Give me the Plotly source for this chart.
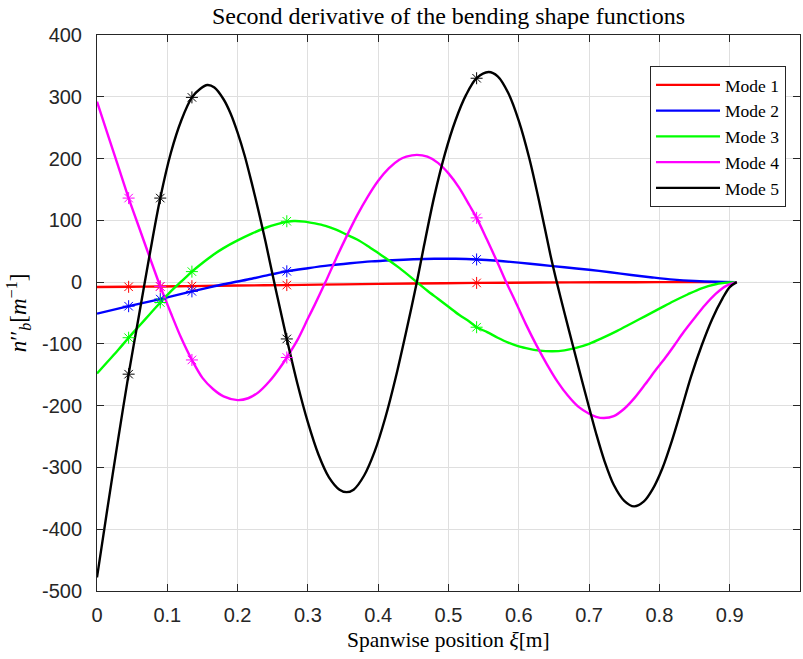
import plotly.graph_objects as go

# ---- data ----
x1 = [0, 0.045, 0.09, 0.135, 0.2, 0.27, 0.35, 0.45, 0.54, 0.63, 0.72, 0.8, 0.91]
y1 = [-8, -7.6, -7, -6.5, -5.6, -4.8, -3.6, -2.3, -1.3, -0.7, -0.3, -0.1, 0]

x2 = [0, 0.045, 0.09, 0.135, 0.16, 0.18, 0.2, 0.22, 0.24, 0.27, 0.30, 0.33, 0.36, 0.39,
      0.42, 0.45, 0.48, 0.51, 0.54, 0.57, 0.60, 0.63, 0.665, 0.70, 0.73, 0.76, 0.79,
      0.82, 0.85, 0.88, 0.91]
y2 = [-51, -39, -27.5, -15, -8.5, -3.5, 1, 5.5, 10.5, 17.5, 22.5, 27, 30.5, 33.5,
      35.5, 37, 37.8, 37.8, 36.7, 34.5, 31.5, 28, 24, 20, 16, 11.5, 7.5,
      4, 1.8, 0.5, 0]

x3 = [0, 0.015, 0.03, 0.045, 0.06, 0.075, 0.09, 0.105, 0.12, 0.135, 0.15, 0.165, 0.18,
      0.2, 0.22, 0.24, 0.255, 0.27, 0.28, 0.295, 0.31, 0.325, 0.34, 0.355, 0.37, 0.385,
      0.40, 0.415, 0.43, 0.455, 0.47, 0.485, 0.50, 0.515, 0.53, 0.54, 0.555, 0.57, 0.585,
      0.60, 0.615, 0.63, 0.648, 0.665, 0.68, 0.70, 0.72, 0.74, 0.76, 0.78, 0.80, 0.82,
      0.84, 0.86, 0.88, 0.89, 0.90, 0.91]
y3 = [-148, -129, -110, -90, -71, -52, -33, -15, 1, 17, 31, 44, 55,
      67.5, 78.5, 88, 93.5, 97.5, 99, 98, 95, 91, 85, 77, 69, 58.5,
      47, 35.5, 23, 0, -14, -27, -40, -53, -64, -73, -81, -90, -98,
      -104, -108, -111, -112, -110.5, -107, -100, -90, -79, -67, -55, -43, -31,
      -20, -10, -3.5, -1.6, -0.4, 0]

x4 = [0, 0.015, 0.03, 0.045, 0.06, 0.075, 0.09, 0.105, 0.12, 0.135, 0.15, 0.165, 0.18,
      0.2, 0.215, 0.23, 0.245, 0.26, 0.27, 0.285, 0.30, 0.31, 0.325, 0.34, 0.355, 0.37,
      0.385, 0.40, 0.415, 0.43, 0.44, 0.455, 0.47, 0.485, 0.50, 0.515, 0.53, 0.54, 0.555,
      0.57, 0.582, 0.595, 0.61, 0.625, 0.64, 0.655, 0.67, 0.685, 0.70, 0.71, 0.721, 0.735,
      0.75, 0.765, 0.78, 0.795, 0.81, 0.822, 0.835, 0.85, 0.865, 0.88, 0.895, 0.91]
y4 = [292, 240, 188, 136, 88, 40, -7, -50, -91, -126, -155, -173, -185,
      -191, -188, -178, -161, -139, -122, -94, -59, -36, 0, 38, 74, 108,
      138, 164, 184, 198, 203, 206, 203, 193, 176, 153, 124, 104, 68,
      31, 0, -31, -68, -102, -133, -161, -184, -202, -213, -218, -220, -217,
      -205, -187, -165, -142, -120, -101, -80, -58, -37, -19, -6, 0]

x5 = [0, 0.015, 0.03, 0.045, 0.06, 0.075, 0.09, 0.105, 0.12, 0.135, 0.147, 0.157, 0.167,
      0.18, 0.19, 0.20, 0.21, 0.22, 0.23, 0.24, 0.252, 0.26, 0.27, 0.285, 0.30, 0.315,
      0.33, 0.345, 0.355, 0.365, 0.38, 0.395, 0.41, 0.425, 0.44, 0.455, 0.465, 0.48,
      0.495, 0.51, 0.525, 0.54, 0.557, 0.57, 0.585, 0.60, 0.615, 0.63, 0.645, 0.654,
      0.665, 0.677, 0.69, 0.70, 0.71, 0.722, 0.735, 0.75, 0.764, 0.778, 0.79, 0.804,
      0.818, 0.831, 0.845, 0.86, 0.875, 0.89, 0.90, 0.91]
y5 = [-478, -365, -255, -149, -52, 45, 136, 209, 262, 299, 313, 319, 315,
      296, 273, 242, 205, 161, 114, 64, 0, -41, -92, -164, -227, -279,
      -316, -336, -340, -336, -313, -274, -220, -154, -79, 0, 58, 140,
      208, 262, 303, 330, 340, 333, 306, 261, 200, 125, 44, 0,
      -50, -103, -160, -203, -245, -290, -328, -354, -363, -355, -336, -302,
      -256, -207, -153, -103, -60, -26, -8, 0]

marker_x = [0.045, 0.09, 0.135, 0.27, 0.54]
m1 = [-7.6, -7, -6.5, -4.8, -1.3]
m2 = [-39, -27.5, -15, 17.5, 36.7]
m3 = [-90, -33, 17, 98.5, -73]
m4 = [136, -7, -126, -122, 104]
m5 = [-149, 136, 299, -92, 330]

names = ["Mode 1", "Mode 2", "Mode 3", "Mode 4", "Mode 5"]
colors = ["#ff0000", "#0000ff", "#00ff00", "#ff00ff", "#000000"]

x_ticks = [0, 0.1, 0.2, 0.3, 0.4, 0.5, 0.6, 0.7, 0.8, 0.9, 1]
x_ticktext = ["0", "0.1", "0.2", "0.3", "0.4", "0.5", "0.6", "0.7", "0.8", "0.9", "1"]
y_ticks = [-500, -400, -300, -200, -100, 0, 100, 200, 300, 400]
y_ticktext = ["-500", "-400", "-300", "-200", "-100", "0", "100", "200", "300", "400"]

curves = [(x1, y1), (x2, y2), (x3, y3), (x4, y4), (x5, y5)]
marks = [m1, m2, m3, m4, m5]

fig = go.Figure()
for (xs, ys), name, c in zip(curves, names, colors):
    fig.add_trace(go.Scatter(x=xs, y=ys, mode="lines", name=name,
                             line=dict(color=c, width=2.4, shape="spline", smoothing=0.9)))
for ms, c in zip(marks, colors):
    fig.add_trace(go.Scatter(x=marker_x, y=ms, mode="markers", showlegend=False,
                             marker=dict(symbol="asterisk-open", size=10, color=c,
                                         line=dict(color=c, width=1))))

serif = "Liberation Serif, Times New Roman, serif"
sans = "Liberation Sans, Arial, Helvetica, sans-serif"
axcol = "#262626"

fig.update_layout(
    width=803, height=659,
    margin=dict(l=97, r=3, t=35, b=68),
    paper_bgcolor="white", plot_bgcolor="white",
    title=dict(text="Second derivative of the bending shape functions",
               font=dict(family=serif, size=24, color="#000000"),
               x=(448.5) / 803, xanchor="center", xref="container",
               y=(659 - 16) / 659, yanchor="middle", yref="container"),
    showlegend=True,
    legend=dict(x=(786 - 97) / 703, xanchor="right", y=(591 - 66) / 556, yanchor="top",
                bgcolor="white", bordercolor=axcol, borderwidth=1,
                font=dict(family=serif, size=17.5, color="#000000"),
                itemwidth=64, tracegroupgap=0),
    xaxis=dict(range=[0, 1], tickvals=x_ticks, ticktext=x_ticktext,
               showgrid=True, gridcolor="#dfdfdf", gridwidth=1, zeroline=False,
               showline=True, linecolor=axcol, linewidth=1, mirror="ticks",
               ticks="inside", ticklen=7, tickcolor=axcol,
               tickfont=dict(family=sans, size=20, color=axcol),
               ticklabelstandoff=6),
    yaxis=dict(range=[-500, 400], tickvals=y_ticks, ticktext=y_ticktext,
               showgrid=True, gridcolor="#dfdfdf", gridwidth=1, zeroline=False,
               showline=True, linecolor=axcol, linewidth=1, mirror="ticks",
               ticks="inside", ticklen=7, tickcolor=axcol,
               tickfont=dict(family=sans, size=20, color=axcol),
               ticklabelstandoff=10,
               title=dict(text="<i>n</i>′′<sub><i>b</i></sub>[<i>m</i><sup>−1</sup>]",
                          font=dict(family=serif, size=23, color="#000000"),
                          standoff=8)),
    annotations=[dict(text="Spanwise position <i>ξ</i>[m]", xref="paper", yref="paper",
                      x=0.5, y=(591 - 640) / 556, xanchor="center", yanchor="middle",
                      showarrow=False,
                      font=dict(family=serif, size=21.5, color="#000000"))],
)

fig.write_html("out.html")
